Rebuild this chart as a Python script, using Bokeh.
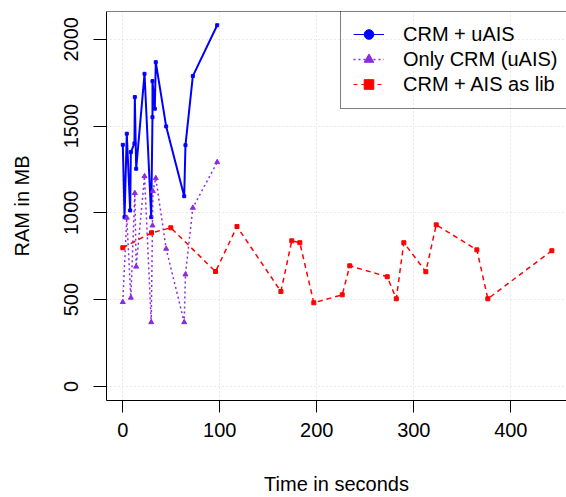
from bokeh.plotting import figure
from bokeh.models import Range1d, FixedTicker, Span, Legend, LegendItem
from bokeh.embed import file_html
from bokeh.resources import INLINE

# ---- data ----
uais_time = [0, 1.8, 4.1, 7.6, 8.3, 12.0, 12.4, 13.8, 22.4, 29.3, 30.6, 30.6, 33.0, 34.0, 44.7, 63.3, 64.6, 72.2, 97.3]
uais_ram = [1392, 975, 1456, 1014, 1350, 1400, 1667, 1254, 1801, 975, 1551, 1759, 1600, 1868, 1498, 1096, 1390, 1788, 2081]

only_time = [0, 4.1, 8.3, 12.4, 13.8, 22.4, 29.3, 30.6, 31.0, 34.0, 44.7, 63.3, 64.6, 72.2, 97.3]
only_ram = [486, 972, 511, 1114, 690, 1211, 370, 927, 1125, 1200, 793, 370, 645, 1029, 1292]

lib_time = [0, 29.6, 49.5, 95.6, 117.7, 163.0, 174.2, 182.5, 196.9, 226.2, 234.0, 272.6, 281.9, 289.7, 312.4, 323.1, 365.0, 376.3, 442.3]
lib_ram = [799, 885, 914, 662, 921, 547, 839, 828, 482, 528, 695, 632, 505, 828, 661, 931, 787, 505, 782]

x_ticks = [0, 100, 200, 300, 400]
y_ticks = [0, 500, 1000, 1500, 2000]
series_labels = ["CRM + uAIS", "Only CRM (uAIS)", "CRM + AIS as lib"]
x_title = "Time in seconds"
y_title = "RAM in MB"

FONT = "Liberation Sans"
BLUE = "#0000FF"
PURPLE = "#8A2BE2"
RED = "#FF0000"
NAN = float("nan")

p = figure(width=566, height=497, output_backend="svg", toolbar_location=None,
           x_range=Range1d(-16.8, 457.4), y_range=Range1d(-81, 2160),
           min_border_left=106, min_border_right=0, min_border_top=11, min_border_bottom=97)
p.outline_line_color = None
p.background_fill_color = "white"
p.border_fill_color = "white"

# grid
for g in (p.xgrid, p.ygrid):
    g.grid_line_color = "#D3D3D3"
    g.grid_line_dash = "1 3"
    g.grid_line_width = 1
p.xgrid.ticker = FixedTicker(ticks=x_ticks)
p.ygrid.ticker = FixedTicker(ticks=y_ticks)

# axes
for ax in (p.xaxis, p.yaxis):
    ax.axis_line_color = "black"
    ax.axis_line_width = 1
    ax.major_tick_line_color = "black"
    ax.major_tick_in = 0
    ax.minor_tick_line_color = None
    ax.major_label_text_font = FONT
    ax.major_label_text_font_size = "20px"
    ax.major_label_text_color = "black"
    ax.axis_label_text_font = FONT
    ax.axis_label_text_font_size = "20px"
    ax.axis_label_text_font_style = "normal"
    ax.axis_label_text_color = "black"

p.xaxis.ticker = FixedTicker(ticks=x_ticks)
p.xaxis.major_tick_out = 12
p.xaxis.major_label_standoff = 10
p.xaxis.axis_label = x_title
p.xaxis.axis_label_standoff = 33

p.yaxis.ticker = FixedTicker(ticks=y_ticks)
p.yaxis.major_tick_out = 13
p.yaxis.major_label_orientation = "vertical"
p.yaxis.major_label_standoff = 15
p.yaxis.axis_label = y_title
p.yaxis.axis_label_standoff = 29

# top frame line
p.add_layout(Span(location=2160, dimension="width", line_color="black", line_width=1))

# series
p.line(uais_time, uais_ram, line_color=BLUE, line_width=2)
p.scatter(uais_time, uais_ram, marker="square", size=3, color=BLUE)

p.line(only_time, only_ram, line_color=PURPLE, line_width=1.5, line_dash="2 3")
p.scatter(only_time, only_ram, marker="triangle", size=5, color=PURPLE)

p.line(lib_time, lib_ram, line_color=RED, line_width=1.5, line_dash="5 4")
p.scatter(lib_time, lib_ram, marker="square", size=4, color=RED)

# legend-only renderers (a single NaN point: nothing is drawn in the plot)
lb_l = p.line([NAN], [NAN], line_color=BLUE, line_width=1)
lb_m = p.scatter([NAN], [NAN], marker="circle", size=9, color=BLUE)
lp_l = p.line([NAN], [NAN], line_color=PURPLE, line_width=1.5, line_dash="2 3")
lp_m = p.scatter([NAN], [NAN], marker="triangle", size=11, color=PURPLE)
lr_l = p.line([NAN], [NAN], line_color=RED, line_width=1, line_dash="4 4")
lr_m = p.scatter([NAN], [NAN], marker="square", size=9, color=RED)

legend = Legend(items=[
    LegendItem(label=series_labels[0], renderers=[lb_l, lb_m]),
    LegendItem(label=series_labels[1], renderers=[lp_l, lp_m]),
    LegendItem(label=series_labels[2], renderers=[lr_l, lr_m]),
], location=(234, 291))
legend.padding = 12
legend.spacing = 1
legend.margin = 0
legend.glyph_width = 31
legend.glyph_height = 24
legend.label_height = 24
legend.label_standoff = 19
legend.label_text_line_height = 1.0
legend.label_text_font = FONT
legend.label_text_font_size = "20px"
legend.label_text_color = "black"
legend.border_line_color = "black"
legend.border_line_width = 1
legend.background_fill_alpha = 0
p.add_layout(legend, "center")

open("out.html", "w").write(file_html(p, INLINE))
